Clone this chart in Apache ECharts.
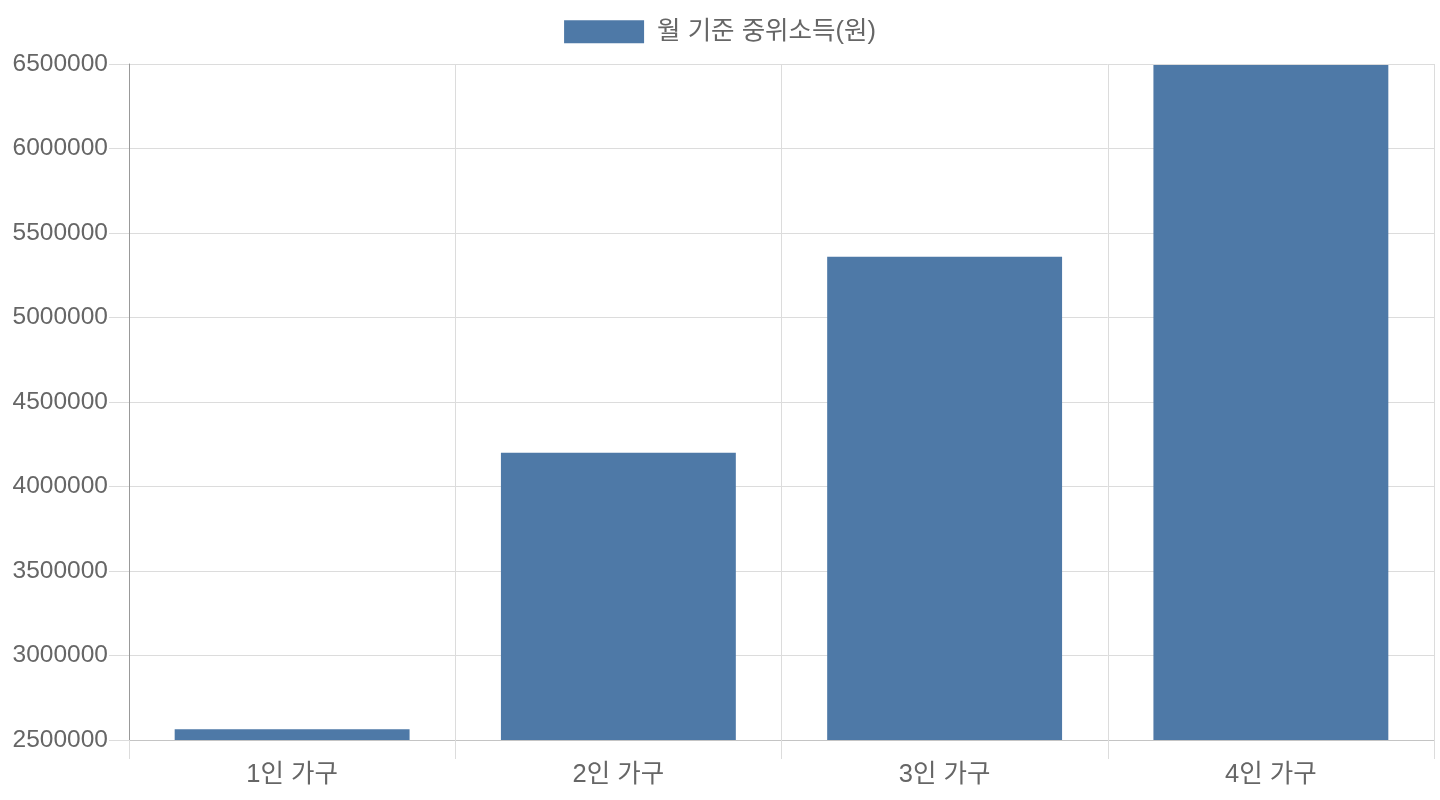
<!DOCTYPE html>
<html><head><meta charset="utf-8">
<script src="https://cdn.jsdelivr.net/npm/echarts@6/dist/echarts.min.js"></script>
<style>html,body{margin:0;padding:0;background:#fff}#c{width:1440px;height:800px}</style>
</head><body><div id="c"></div>
<script>
const categories = ['1인 가구', '2인 가구', '3인 가구', '4인 가구'];
const seriesName = '월 기준 중위소득(원)';
const incomeValues = [2564238, 4199292, 5359036, 6494738];
const yMin = 2500000, yMax = 6500000, yStep = 500000;

const FONT = '"Liberation Sans", "Noto Sans CJK KR", sans-serif';
const chart = echarts.init(document.getElementById('c'));
chart.setOption({
  animation: false,
  legend: {
    top: 14, left: 'center',
    itemWidth: 80, itemHeight: 23, itemGap: 10,
    icon: 'rect',
    textStyle: { fontSize: 25.5, color: '#666', fontFamily: FONT, padding: [0, 0, 0, 8] },
    data: [seriesName]
  },
  grid: { left: 129, right: 6, top: 64, bottom: 60, containLabel: false },
  xAxis: {
    type: 'category', data: categories,
    axisLine: { show: true, lineStyle: { color: '#c4c4c4', width: 1 } },
    axisTick: { show: true, alignWithLabel: false, length: 19, lineStyle: { color: '#dcdcdc' } },
    splitLine: { show: true, lineStyle: { color: '#dcdcdc' } },
    axisLabel: { fontSize: 25.5, color: '#666', fontFamily: FONT, margin: 22 }
  },
  yAxis: {
    type: 'value', min: yMin, max: yMax, interval: yStep,
    axisLine: { show: true, lineStyle: { color: '#999999', width: 1 } },
    axisTick: { show: true, length: 20, lineStyle: { color: '#dcdcdc' } },
    splitLine: { show: true, lineStyle: { color: '#dcdcdc' } },
    axisLabel: { fontSize: 24.5, color: '#666', fontFamily: FONT, margin: 21,
      formatter: function (v) { return String(v); } }
  },
  series: [{
    name: seriesName, type: 'bar', data: incomeValues,
    barWidth: '72%',
    itemStyle: { color: '#4e79a7' }
  }]
});
</script></body></html>
